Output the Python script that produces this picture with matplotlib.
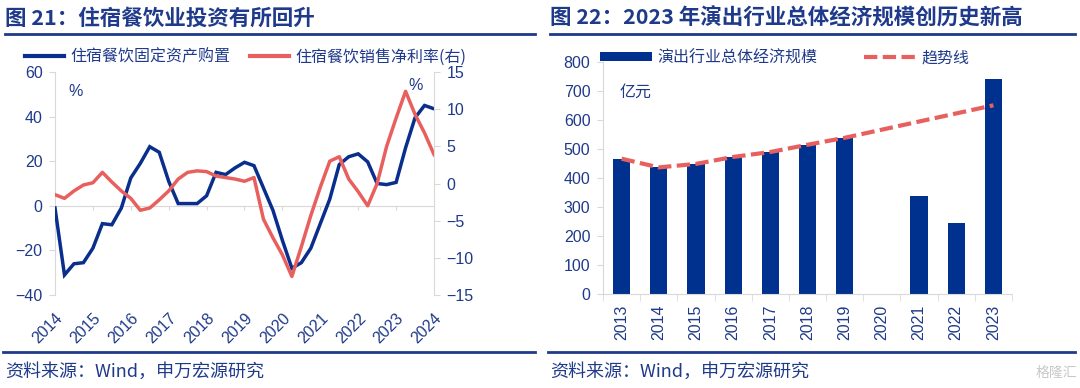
import matplotlib
matplotlib.use('Agg')
import matplotlib.pyplot as plt
from matplotlib.lines import Line2D
from matplotlib.patches import Patch

plt.rcParams['font.family'] = ['Liberation Sans', 'Noto Sans CJK SC']

# ---------------- data ----------------
quarters = [2014 + 0.25 * i for i in range(41)]
invest_yoy = [-1, -31, -26, -25.5, -19, -8, -8.5, -1, 12.5, 19, 26.5, 24, 11, 1, 1, 1,
              4.5, 15, 14, 17, 19.5, 18, 8, -2, -15.5, -28, -25.5, -19, -8, 3, 18.5, 22,
              23.3, 19.7, 10, 9.5, 10.5, 26, 39.5, 45, 43.5]
net_margin = [-1.5, -2.0, -1.0, -0.2, 0.1, 1.5, 0.2, -1.0, -2.0, -3.6, -3.3, -2.2, -1.0, 0.6,
              1.5, 1.7, 1.6, 1.0, 0.8, 0.6, 0.3, 0.8, -4.8, -7.3, -9.6, -12.5, -8.5, -4.3,
              -0.5, 3.0, 3.6, 0.6, -1.1, -3.0, 0.0, 5.0, 8.8, 12.4, 9.3, 6.8, 3.9]
left_years = [2014, 2015, 2016, 2017, 2018, 2019, 2020, 2021, 2022, 2023, 2024]
left_yticks = [-40, -20, 0, 20, 40, 60]
right_yticks = [-15, -10, -5, 0, 5, 10, 15]

bar_years = ['2013', '2014', '2015', '2016', '2017', '2018', '2019', '2020', '2021', '2022', '2023']
perf_scale = [465, 435, 447, 471, 488, 513, 537, 0, 337, 245, 740]
trend_line = [465, 435, 447, 471, 488, 513, 537, 565, 593, 621, 649]
bar_yticks = [0, 100, 200, 300, 400, 500, 600, 700, 800]

# ---------------- style ----------------
W, H = 1080, 388
NAVY = '#1F3A8A'
LBLUE = '#0A2E8C'
RED = '#E8605E'
BAR = '#00318F'
GRAY = '#D9D9D9'
CJK = ['Noto Sans CJK SC', 'DejaVu Sans']

fig = plt.figure(figsize=(W / 100, H / 100), dpi=100)

def fx(px):
    return px / W

def fy(py):
    return 1 - py / H

# titles and rules
fig.text(fx(5), fy(18), '图 21：住宿餐饮业投资有所回升', family=CJK, fontsize=15.5,
         fontweight='bold', color=NAVY, ha='left', va='center')
fig.text(fx(550), fy(18), '图 22：2023 年演出行业总体经济规模创历史新高', family=CJK, fontsize=15.5,
         fontweight='bold', color=NAVY, ha='left', va='center')
for x0, x1 in [(5, 535), (550, 1075)]:
    fig.add_artist(Line2D([fx(x0), fx(x1)], [fy(34), fy(34)], color=NAVY, lw=2))
    fig.add_artist(Line2D([fx(x0 - 2), fx(x1)], [fy(352), fy(352)], color=NAVY, lw=2))
fig.text(fx(5), fy(372), '资料来源：Wind，申万宏源研究', family=CJK, fontsize=13,
         color=NAVY, ha='left', va='center')
fig.text(fx(550), fy(372), '资料来源：Wind，申万宏源研究', family=CJK, fontsize=13,
         color=NAVY, ha='left', va='center')
fig.text(fx(1077), fy(373), '格隆汇', family=CJK, fontsize=10, color='#C8C8C8',
         ha='right', va='center')

# ---------------- left chart ----------------
ax1 = fig.add_axes([fx(55), fy(295), fx(379), 223 / H])
ax1.plot(quarters, invest_yoy, color=LBLUE, lw=2.5, solid_joinstyle='miter', zorder=3)
ax1.set_xlim(2014, 2024)
ax1.set_ylim(-40, 60)
ax1.set_yticks(left_yticks)
ax1.set_xticks(left_years)
ax1.spines['top'].set_visible(False)
ax1.spines['right'].set_visible(False)
ax1.spines['left'].set_color(GRAY)
ax1.spines['bottom'].set_color(GRAY)
ax1.spines['bottom'].set_position(('data', 0))
ax1.tick_params(axis='y', direction='out', length=4, color=GRAY, labelcolor=NAVY,
                labelsize=11.5, pad=5)
ax1.tick_params(axis='x', direction='out', length=3, color=GRAY, labelbottom=False)
ax1.patch.set_alpha(0)

sec = ax1.secondary_xaxis('bottom')
sec.set_xticks(left_years)
sec.set_xticklabels([str(y) for y in left_years], rotation=45, ha='right',
                    rotation_mode='anchor', va='top')
sec.tick_params(length=0, pad=11, labelcolor=NAVY, labelsize=11.5)
sec.spines['bottom'].set_visible(False)

ax2 = ax1.twinx()
ax2.plot(quarters, net_margin, color=RED, lw=2.5, zorder=2)
ax2.set_ylim(-15, 15)
ax2.set_yticks(right_yticks)
for s in ['top', 'left', 'bottom']:
    ax2.spines[s].set_visible(False)
ax2.spines['right'].set_color(GRAY)
ax2.tick_params(axis='y', direction='out', length=4, color=GRAY, labelcolor=NAVY,
                labelsize=11.5, pad=5)

fig.text(fx(76), fy(92), '%', fontsize=11.5, color=NAVY, ha='center', va='center')
fig.text(fx(416), fy(85), '%', fontsize=11.5, color=NAVY, ha='center', va='center')

h1 = Line2D([], [], color=LBLUE, lw=3)
h2 = Line2D([], [], color=RED, lw=3)
fig.legend([h1, h2], ['住宿餐饮固定资产购置', '住宿餐饮销售净利率(右)'], ncol=2,
           loc='center left', bbox_to_anchor=(fx(25), fy(57)), frameon=False,
           handlelength=2.45, handletextpad=0.38, columnspacing=1.25,
           prop={'size': 11.5, 'family': CJK}, labelcolor=NAVY, borderaxespad=0, borderpad=0)

# ---------------- right chart ----------------
ax3 = fig.add_axes([fx(603), fy(293.6), fx(409), 232.1 / H])
xs = list(range(len(bar_years)))
ax3.bar(xs, perf_scale, width=0.46, color=BAR, zorder=2)
ax3.plot(xs, trend_line, color=RED, lw=3, dashes=(3.2, 1.3), zorder=3)
ax3.set_xlim(-0.5, len(bar_years) - 0.5)
ax3.set_ylim(0, 800)
ax3.set_yticks(bar_yticks)
ax3.set_xticks(xs)
ax3.set_xticklabels(bar_years, rotation=90, va='top')
ax3.set_xticks([i - 0.5 for i in range(len(bar_years) + 1)], minor=True)
ax3.tick_params(axis='x', which='major', length=0, pad=8, labelcolor=NAVY, labelsize=11.5)
ax3.tick_params(axis='x', which='minor', length=5, color=GRAY, direction='out')
ax3.tick_params(axis='y', direction='out', length=4, color=GRAY, labelcolor=NAVY,
                labelsize=11.5, pad=5)
ax3.spines['top'].set_visible(False)
ax3.spines['right'].set_visible(False)
ax3.spines['left'].set_color(GRAY)
ax3.spines['bottom'].set_color(GRAY)

fig.text(fx(620), fy(92), '亿元', family=CJK, fontsize=11.5, color=NAVY, ha='left', va='center')

hb = Patch(facecolor=BAR, edgecolor='none')
ht = Line2D([], [], color=RED, lw=3, dashes=(3.2, 1.3))
fig.legend([hb, ht], ['演出行业总体经济规模', '趋势线'], ncol=2,
           loc='center left', bbox_to_anchor=(fx(600), fy(58)), frameon=False,
           handlelength=3.25, handleheight=0.5, handletextpad=0.35, columnspacing=2.9,
           prop={'size': 11.5, 'family': CJK}, labelcolor=NAVY, borderaxespad=0, borderpad=0)

fig.savefig('out.png', dpi=100)
